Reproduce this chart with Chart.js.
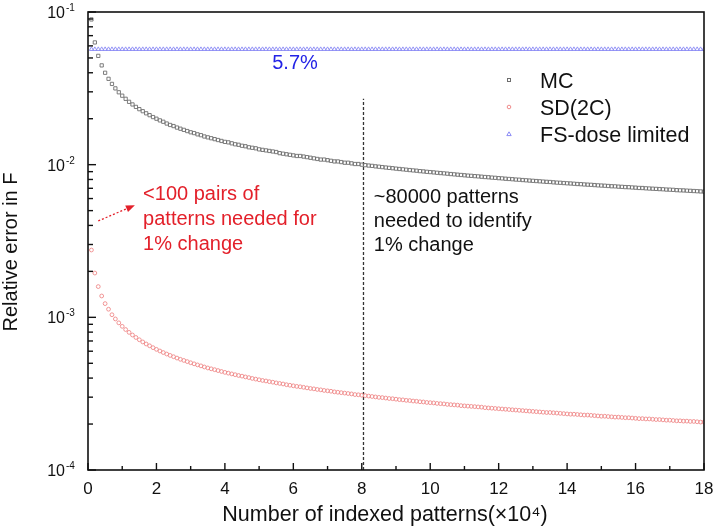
<!DOCTYPE html>
<html>
<head>
<meta charset="utf-8">
<script src="https://cdn.jsdelivr.net/npm/chart.js@4/dist/chart.umd.min.js"></script>
<style>
  html, body { margin: 0; padding: 0; background: #fff; }
  #wrap { width: 715px; height: 532px; position: relative; }
</style>
</head>
<body>
<div id="wrap"><canvas id="c" width="715" height="532"></canvas></div>
<script>
// Number of indexed patterns (x10^4)
const patterns = [
 0.1,0.2,0.3,0.4,0.5,0.6,0.7,0.8,0.9,1.0,
 1.1,1.2,1.3,1.4,1.5,1.6,1.7,1.8,1.9,2.0,
 2.1,2.2,2.3,2.4,2.5,2.6,2.7,2.8,2.9,3.0,
 3.1,3.2,3.3,3.4,3.5,3.6,3.7,3.8,3.9,4.0,
 4.1,4.2,4.3,4.4,4.5,4.6,4.7,4.8,4.9,5.0,
 5.1,5.2,5.3,5.4,5.5,5.6,5.7,5.8,5.9,6.0,
 6.1,6.2,6.3,6.4,6.5,6.6,6.7,6.8,6.9,7.0,
 7.1,7.2,7.3,7.4,7.5,7.6,7.7,7.8,7.9,8.0,
 8.1,8.2,8.3,8.4,8.5,8.6,8.7,8.8,8.9,9.0,
 9.1,9.2,9.3,9.4,9.5,9.6,9.7,9.8,9.9,10.0,
 10.1,10.2,10.3,10.4,10.5,10.6,10.7,10.8,10.9,11.0,
 11.1,11.2,11.3,11.4,11.5,11.6,11.7,11.8,11.9,12.0,
 12.1,12.2,12.3,12.4,12.5,12.6,12.7,12.8,12.9,13.0,
 13.1,13.2,13.3,13.4,13.5,13.6,13.7,13.8,13.9,14.0,
 14.1,14.2,14.3,14.4,14.5,14.6,14.7,14.8,14.9,15.0,
 15.1,15.2,15.3,15.4,15.5,15.6,15.7,15.8,15.9,16.0,
 16.1,16.2,16.3,16.4,16.5,16.6,16.7,16.8,16.9,17.0,
 17.1,17.2,17.3,17.4,17.5,17.6,17.7,17.8,17.9,18.0
];

// MC relative error
const mcValues = [
 0.0894,0.0632,0.0516,0.0447,0.0400,0.0365,0.0338,0.0316,0.0298,0.0283,
 0.0270,0.0258,0.0248,0.0239,0.0231,0.0224,0.0217,0.0211,0.0205,0.0200,
 0.0195,0.0191,0.0186,0.0182,0.0179,0.0175,0.0172,0.0169,0.0166,0.0163,
 0.0161,0.0158,0.0156,0.0153,0.0151,0.0149,0.0147,0.0145,0.0143,0.0141,
 0.0140,0.0138,0.0136,0.0135,0.0133,0.0132,0.0130,0.0129,0.0128,0.0126,
 0.0125,0.0124,0.0123,0.0122,0.0121,0.0119,0.0118,0.0117,0.0116,0.0115,
 0.0114,0.0114,0.0113,0.0112,0.0111,0.0110,0.0109,0.0108,0.0108,0.0107,
 0.0106,0.0105,0.0105,0.0104,0.0103,0.0103,0.0102,0.0101,0.0101,0.0100,
 0.00993,0.00987,0.00982,0.00975,0.00970,0.00964,0.00958,0.00953,0.00948,0.00942,
 0.00937,0.00932,0.00927,0.00922,0.00917,0.00913,0.00907,0.00903,0.00898,0.00894,
 0.00890,0.00885,0.00881,0.00877,0.00873,0.00868,0.00864,0.00860,0.00856,0.00852,
 0.00848,0.00845,0.00841,0.00838,0.00834,0.00830,0.00827,0.00823,0.00820,0.00816,
 0.00813,0.00809,0.00806,0.00803,0.00799,0.00797,0.00793,0.00790,0.00787,0.00784,
 0.00781,0.00778,0.00775,0.00772,0.00770,0.00766,0.00763,0.00761,0.00758,0.00755,
 0.00753,0.00750,0.00747,0.00745,0.00742,0.00740,0.00738,0.00735,0.00732,0.00730,
 0.00728,0.00725,0.00722,0.00721,0.00718,0.00716,0.00713,0.00712,0.00709,0.00707,
 0.00704,0.00703,0.00700,0.00698,0.00696,0.00694,0.00692,0.00690,0.00687,0.00686,
 0.00684,0.00681,0.00679,0.00678,0.00676,0.00674,0.00672,0.00670,0.00668,0.00666
];

// SD(2C) relative error
const sdValues = [
 0.00276,0.00195,0.00159,0.00138,0.00123,0.00113,0.00104,0.000976,0.000920,0.000873,
 0.000832,0.000797,0.000766,0.000738,0.000713,0.000690,0.000669,0.000651,0.000633,0.000617,
 0.000602,0.000588,0.000575,0.000563,0.000552,0.000541,0.000531,0.000522,0.000513,0.000504,
 0.000496,0.000488,0.000481,0.000473,0.000466,0.000460,0.000454,0.000448,0.000442,0.000436,
 0.000431,0.000426,0.000421,0.000416,0.000412,0.000407,0.000403,0.000398,0.000394,0.000390,
 0.000386,0.000383,0.000379,0.000376,0.000372,0.000369,0.000366,0.000362,0.000359,0.000356,
 0.000353,0.000351,0.000348,0.000345,0.000342,0.000340,0.000337,0.000335,0.000332,0.000330,
 0.000328,0.000325,0.000323,0.000321,0.000319,0.000317,0.000315,0.000312,0.000311,0.000309,
 0.000307,0.000305,0.000303,0.000301,0.000299,0.000298,0.000296,0.000294,0.000293,0.000291,
 0.000289,0.000288,0.000286,0.000285,0.000283,0.000282,0.000280,0.000279,0.000277,0.000276,
 0.000275,0.000273,0.000272,0.000271,0.000269,0.000268,0.000267,0.000266,0.000264,0.000263,
 0.000262,0.000261,0.000260,0.000259,0.000258,0.000256,0.000255,0.000254,0.000253,0.000252,
 0.000251,0.000250,0.000249,0.000248,0.000247,0.000246,0.000245,0.000244,0.000243,0.000242,
 0.000241,0.000240,0.000239,0.000238,0.000238,0.000237,0.000236,0.000235,0.000234,0.000233,
 0.000232,0.000232,0.000231,0.000230,0.000229,0.000229,0.000228,0.000227,0.000226,0.000225,
 0.000225,0.000224,0.000223,0.000222,0.000222,0.000221,0.000220,0.000220,0.000219,0.000218,
 0.000217,0.000217,0.000216,0.000216,0.000215,0.000214,0.000214,0.000213,0.000212,0.000212,
 0.000211,0.000210,0.000210,0.000209,0.000209,0.000208,0.000208,0.000207,0.000206,0.000206
];

// FS-dose limited (constant 5.7%)
const fsValues = [
 0.057,0.057,0.057,0.057,0.057,0.057,0.057,0.057,0.057,0.057,
 0.057,0.057,0.057,0.057,0.057,0.057,0.057,0.057,0.057,0.057,
 0.057,0.057,0.057,0.057,0.057,0.057,0.057,0.057,0.057,0.057,
 0.057,0.057,0.057,0.057,0.057,0.057,0.057,0.057,0.057,0.057,
 0.057,0.057,0.057,0.057,0.057,0.057,0.057,0.057,0.057,0.057,
 0.057,0.057,0.057,0.057,0.057,0.057,0.057,0.057,0.057,0.057,
 0.057,0.057,0.057,0.057,0.057,0.057,0.057,0.057,0.057,0.057,
 0.057,0.057,0.057,0.057,0.057,0.057,0.057,0.057,0.057,0.057,
 0.057,0.057,0.057,0.057,0.057,0.057,0.057,0.057,0.057,0.057,
 0.057,0.057,0.057,0.057,0.057,0.057,0.057,0.057,0.057,0.057,
 0.057,0.057,0.057,0.057,0.057,0.057,0.057,0.057,0.057,0.057,
 0.057,0.057,0.057,0.057,0.057,0.057,0.057,0.057,0.057,0.057,
 0.057,0.057,0.057,0.057,0.057,0.057,0.057,0.057,0.057,0.057,
 0.057,0.057,0.057,0.057,0.057,0.057,0.057,0.057,0.057,0.057,
 0.057,0.057,0.057,0.057,0.057,0.057,0.057,0.057,0.057,0.057,
 0.057,0.057,0.057,0.057,0.057,0.057,0.057,0.057,0.057,0.057,
 0.057,0.057,0.057,0.057,0.057,0.057,0.057,0.057,0.057,0.057,
 0.057,0.057,0.057,0.057,0.057,0.057,0.057,0.057,0.057,0.057
];

// threshold marker (~80000 patterns)
const markerX = [8.05, 8.05];
const markerY = [0.0001, 0.027];

const xTicks = [0, 2, 4, 6, 8, 10, 12, 14, 16, 18];
const yDecades = [-4, -3, -2, -1];
const seriesNames = ['MC', 'SD(2C)', 'FS-dose limited'];

const FONT = '"Liberation Sans", Arial, sans-serif';
const MC_COLOR = '#6e6e6e';
const SD_COLOR = '#ef8a8a';
const FS_COLOR = '#8a8af5';

function pts(ys) { return patterns.map((x, i) => ({ x: x, y: ys[i] })); }

const decor = {
  id: 'decor',
  afterDraw(chart) {
    const ctx = chart.ctx;
    const xs = chart.scales.x, ys = chart.scales.y;
    const a = chart.chartArea;
    ctx.save();
    // frame
    ctx.strokeStyle = '#111';
    ctx.lineWidth = 1.6;
    ctx.strokeRect(a.left, a.top, a.right - a.left, a.bottom - a.top);
    // x ticks (inward)
    ctx.lineWidth = 1.4;
    for (let v = 0; v <= 18; v++) {
      const px = xs.getPixelForValue(v);
      const len = (v % 2 === 0) ? 7 : 4;
      ctx.beginPath(); ctx.moveTo(px, a.bottom); ctx.lineTo(px, a.bottom - len); ctx.stroke();
    }
    // y ticks (inward) log
    yDecades.forEach(k => {
      for (let m = 1; m <= 9; m++) {
        const val = m * Math.pow(10, k);
        if (val > 0.1000001) continue;
        const py = ys.getPixelForValue(val);
        const len = m === 1 ? 8 : 5;
        ctx.beginPath(); ctx.moveTo(a.left, py); ctx.lineTo(a.left + len, py); ctx.stroke();
      }
    });
    // y labels with superscripts
    ctx.fillStyle = '#111';
    yDecades.forEach(k => {
      const py = ys.getPixelForValue(Math.pow(10, k));
      ctx.font = '16px ' + FONT;
      ctx.textAlign = 'right'; ctx.textBaseline = 'alphabetic';
      ctx.fillText('10', 65, py + 6);
      ctx.font = '10px ' + FONT;
      ctx.textAlign = 'left';
      ctx.fillText(String(k), 66, py - 1);
    });
    // axis titles
    ctx.font = '21.5px ' + FONT;
    ctx.textAlign = 'center'; ctx.textBaseline = 'alphabetic';
    ctx.fillText('Number of indexed patterns(\u00d710\u2074)', 385, 521);
    ctx.save();
    ctx.translate(17, 252);
    ctx.rotate(-Math.PI / 2);
    ctx.font = '20px ' + FONT;
    ctx.fillText('Relative error in F', 0, 0);
    ctx.restore();

    // legend
    const lx = 509, lys = [80, 107, 134];
    ctx.lineWidth = 1;
    ctx.strokeStyle = MC_COLOR; ctx.strokeRect(lx - 1.5, lys[0] - 1.5, 3, 3);
    ctx.strokeStyle = SD_COLOR; ctx.beginPath(); ctx.arc(lx, lys[1], 1.8, 0, Math.PI * 2); ctx.stroke();
    ctx.strokeStyle = FS_COLOR; ctx.beginPath();
    ctx.moveTo(lx, lys[2] - 2.2); ctx.lineTo(lx + 2.2, lys[2] + 1.6); ctx.lineTo(lx - 2.2, lys[2] + 1.6); ctx.closePath(); ctx.stroke();
    ctx.fillStyle = '#111';
    ctx.font = '21.5px ' + FONT;
    ctx.textAlign = 'left';
    seriesNames.forEach((n, i) => ctx.fillText(n, 540, lys[i] + 7.5));

    ctx.font = '20px ' + FONT;
    // 5.7% label
    ctx.fillStyle = '#2323e6';
    ctx.textAlign = 'center';
    ctx.fillText('5.7%', xs.getPixelForValue(6.05), ys.getPixelForValue(0.0423));

    // red annotation
    ctx.fillStyle = '#e3202a';
    ctx.textAlign = 'left';
    const rx = xs.getPixelForValue(1.61), ry = ys.getPixelForValue(0.00586);
    ['<100 pairs of', 'patterns needed for', '1% change'].forEach((t, i) => ctx.fillText(t, rx, ry + i * 25));
    // red dotted arrow
    const ax0 = xs.getPixelForValue(0.3), ay0 = ys.getPixelForValue(0.00428);
    const ax1 = xs.getPixelForValue(1.37), ay1 = ys.getPixelForValue(0.00543);
    const ang = Math.atan2(ay1 - ay0, ax1 - ax0);
    ctx.strokeStyle = '#e3202a'; ctx.lineWidth = 1.3;
    ctx.setLineDash([2, 2]);
    ctx.beginPath(); ctx.moveTo(ax0, ay0); ctx.lineTo(ax1 - 7 * Math.cos(ang), ay1 - 7 * Math.sin(ang)); ctx.stroke();
    ctx.setLineDash([]);
    ctx.beginPath();
    ctx.moveTo(ax1, ay1);
    ctx.lineTo(ax1 - 9 * Math.cos(ang) + 3.5 * Math.sin(ang), ay1 - 9 * Math.sin(ang) - 3.5 * Math.cos(ang));
    ctx.lineTo(ax1 - 9 * Math.cos(ang) - 3.5 * Math.sin(ang), ay1 - 9 * Math.sin(ang) + 3.5 * Math.cos(ang));
    ctx.closePath(); ctx.fillStyle = '#e3202a'; ctx.fill();

    // black annotation
    ctx.fillStyle = '#111';
    const bx = xs.getPixelForValue(8.35), by = ys.getPixelForValue(0.0056);
    ['~80000 patterns', 'needed to identify', '1% change'].forEach((t, i) => ctx.fillText(t, bx, by + i * 24));
    ctx.restore();
  }
};

new Chart(document.getElementById('c'), {
  type: 'scatter',
  data: {
    datasets: [
      { label: seriesNames[2], data: pts(fsValues), pointStyle: 'triangle', pointRadius: 2.4,
        borderColor: FS_COLOR, backgroundColor: 'rgba(0,0,0,0)', pointBorderWidth: 0.9, showLine: false },
      { label: seriesNames[0], data: pts(mcValues), pointStyle: 'rect', pointRadius: 2.3,
        borderColor: MC_COLOR, backgroundColor: 'rgba(0,0,0,0)', pointBorderWidth: 0.9, showLine: false },
      { label: seriesNames[1], data: pts(sdValues), pointStyle: 'circle', pointRadius: 1.9,
        borderColor: SD_COLOR, backgroundColor: 'rgba(0,0,0,0)', pointBorderWidth: 0.9, showLine: false },
      { label: 'marker', data: markerX.map((x, i) => ({ x: x, y: markerY[i] })), showLine: true,
        borderColor: '#333', borderWidth: 1.3, borderDash: [3, 2], pointRadius: 0 }
    ]
  },
  options: {
    responsive: false,
    animation: false,
    layout: { padding: { left: 88, top: 12, right: 11, bottom: 0 } },
    plugins: { legend: { display: false }, tooltip: { enabled: false } },
    scales: {
      x: {
        type: 'linear', min: 0, max: 18,
        afterFit(s) { s.height = 62; s.paddingLeft = 0; s.paddingRight = 0; },
        afterBuildTicks(s) { s.ticks = xTicks.map(v => ({ value: v })); },
        grid: { display: false, drawTicks: false },
        border: { display: false },
        ticks: { color: '#111', padding: 9, font: { family: FONT, size: 17 } }
      },
      y: {
        type: 'logarithmic', min: 0.0001, max: 0.1, display: false
      }
    }
  },
  plugins: [decor]
});
</script>
</body>
</html>
